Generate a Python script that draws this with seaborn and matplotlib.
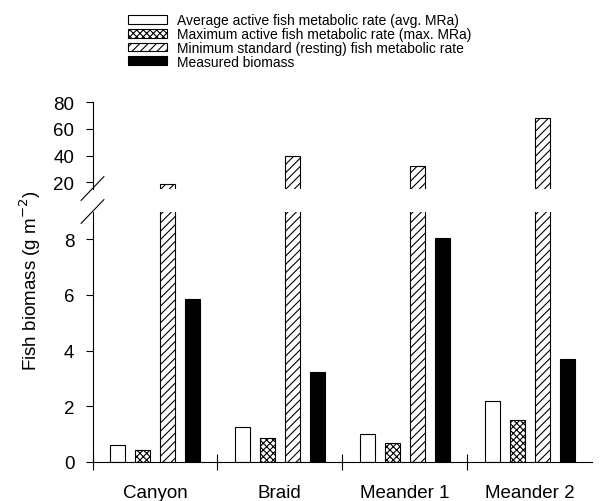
import pandas as pd
import matplotlib
matplotlib.use("Agg")
import matplotlib.pyplot as plt
from matplotlib.lines import Line2D
import seaborn as sns

# values
sites = ["Canyon", "Braid", "Meander 1", "Meander 2"]
avg_mra = [0.62, 1.27, 1.02, 2.20]
max_mra = [0.43, 0.88, 0.70, 1.51]
min_standard = [18.5, 40.0, 32.0, 68.0]
measured = [5.86, 3.23, 8.05, 3.70]

series_labels = [
    "Average active fish metabolic rate (avg. MRa)",
    "Maximum active fish metabolic rate (max. MRa)",
    "Minimum standard (resting) fish metabolic rate",
    "Measured biomass",
]
series_values = [avg_mra, max_mra, min_standard, measured]
fills = ["white", "white", "white", "black"]
hatches = ["", "xxxxx", "////", ""]

upper_ticks = [20, 40, 60, 80]
lower_ticks = [0, 2, 4, 6, 8]

sns.set_theme(style="ticks")
plt.rcParams.update({
    "font.family": ["Liberation Sans", "DejaVu Sans"],
    "font.size": 13.5,
    "hatch.linewidth": 0.8,
    "axes.linewidth": 0.8,
    "axes.edgecolor": "black",
    "xtick.color": "black",
    "ytick.color": "black",
    "text.color": "black",
})

rows = []
for label, vals in zip(series_labels, series_values):
    for site, v in zip(sites, vals):
        rows.append({"Site": site, "Measure": label, "Value": v})
df = pd.DataFrame(rows)

fig = plt.figure(figsize=(6.01, 5.02), dpi=100)
W, H = 601.0, 502.0
left, right = 92.5 / W, 592 / W
ax_lo = fig.add_axes([left, (H - 463) / H, right - left, (463 - 212.5) / H])
ax_hi = fig.add_axes([left, (H - 189.5) / H, right - left, (189.5 - 103) / H])

for ax in (ax_lo, ax_hi):
    sns.barplot(data=df, x="Site", y="Value", hue="Measure", order=sites,
                hue_order=series_labels, palette=fills, saturation=1,
                edgecolor="black", linewidth=0.8, width=0.8, gap=0.4,
                errorbar=None, legend=False, ax=ax)
    for cont, h in zip(ax.containers, hatches):
        for p in cont.patches:
            p.set_hatch(h)
    ax.set_xlabel("")
    ax.set_ylabel("")
    ax.set_xlim(-0.5, 3.5)
    ax.spines["top"].set_visible(False)
    ax.spines["right"].set_visible(False)
    ax.tick_params(axis="y", direction="out", length=5, width=0.8, pad=8,
                   labelsize=13.5)

ax_lo.set_ylim(0, 9)
ax_lo.set_yticks(lower_ticks)
ax_hi.set_ylim(15.5, 80)
ax_hi.set_yticks(upper_ticks)

# upper panel: no x axis
ax_hi.spines["bottom"].set_visible(False)
ax_hi.set_xticks([])

# lower panel: category names centered, boundary ticks between groups
ax_lo.set_xticks(range(len(sites)))
ax_lo.set_xticklabels(sites)
ax_lo.tick_params(axis="x", which="major", length=0, pad=16, labelsize=13.5)
ax_lo.set_xticks([-0.5, 0.5, 1.5, 2.5], minor=True)
ax_lo.tick_params(axis="x", which="minor", direction="inout", length=11,
                  width=0.8)

# break marks on the y axis
dx, dy = 11.5 / W, 12 / H
for yc in ((H - 189.5) / H, (H - 212.5) / H):
    fig.add_artist(Line2D([left - dx, left + dx], [yc - dy, yc + dy],
                          transform=fig.transFigure, color="black", lw=0.8))

fig.text(30 / W, 1 - 281 / H, "Fish biomass (g m$^{-2}$)", rotation=90,
         ha="center", va="center", fontsize=13.5)

handles = [cont.patches[0] for cont in ax_lo.containers]
fig.legend(handles, series_labels, loc="upper left",
           bbox_to_anchor=(128 / W, 1 - 14.5 / H), frameon=False,
           fontsize=10, handlelength=2.8, handleheight=0.6,
           handletextpad=0.7, labelspacing=-0.02, borderpad=0,
           borderaxespad=0)

fig.savefig("out.png", dpi=100)
